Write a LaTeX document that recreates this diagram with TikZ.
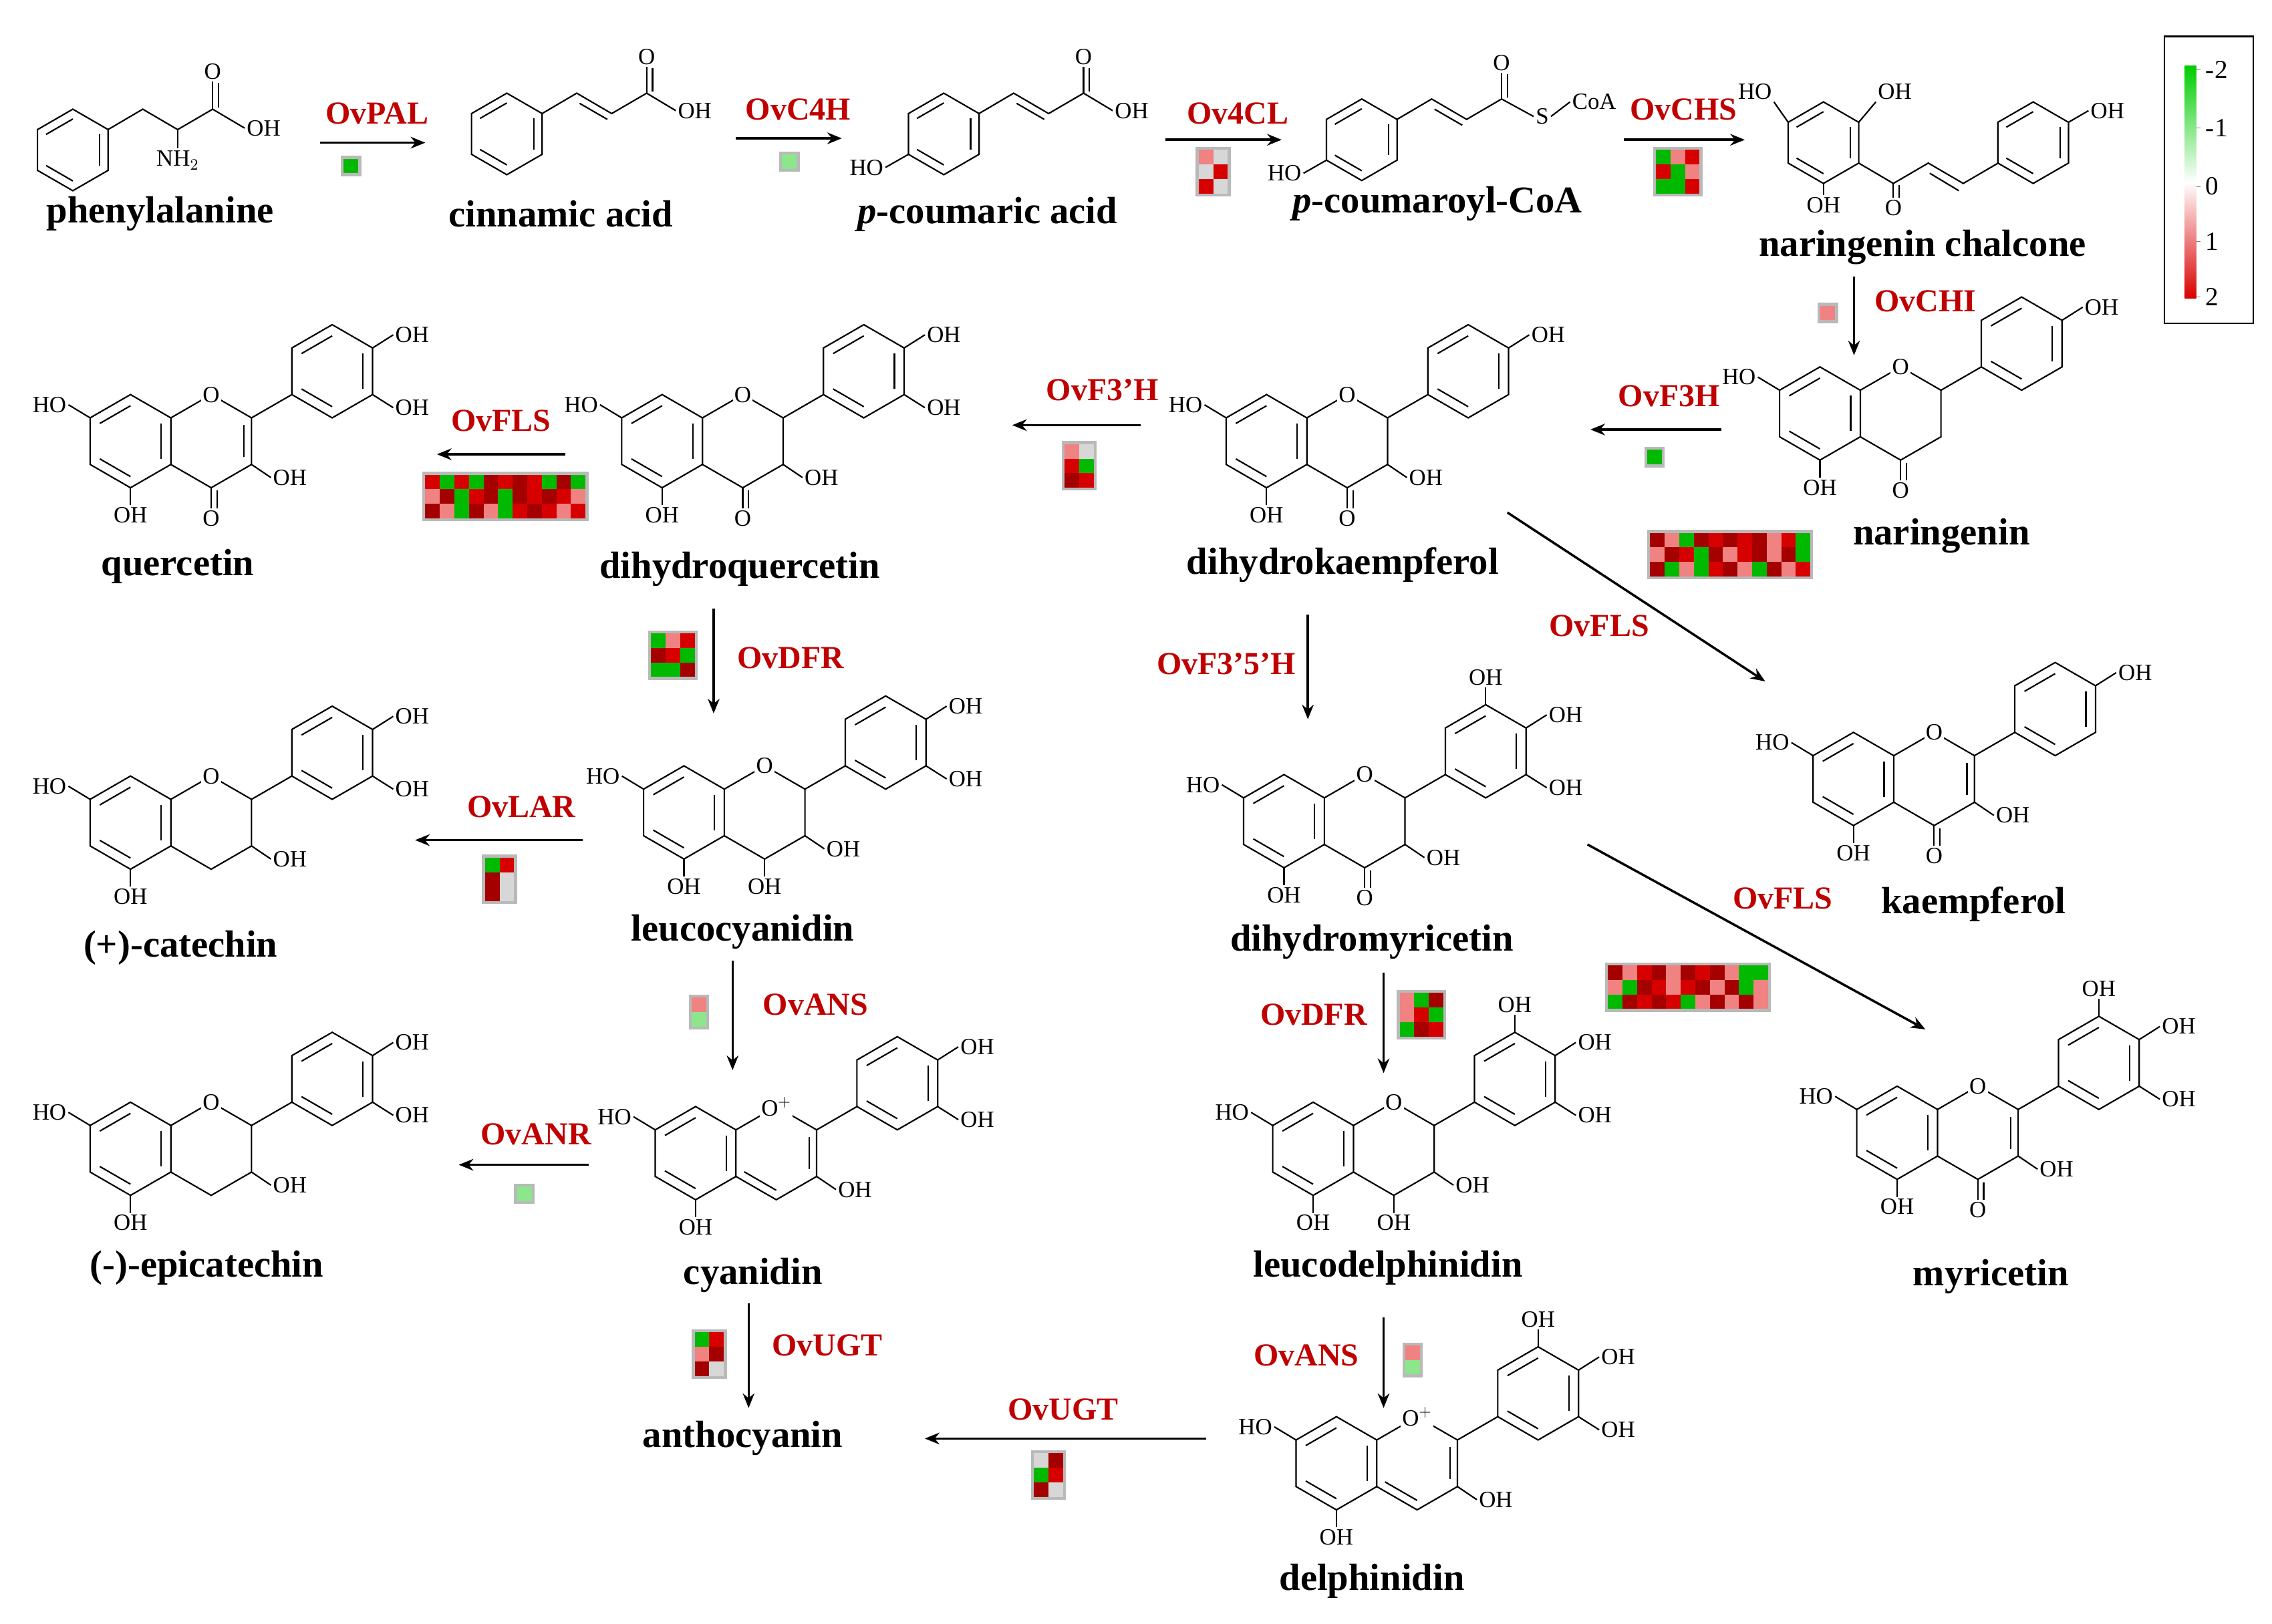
\documentclass[tikz,border=0pt]{standalone}
\usepackage{fontspec}
\setmainfont{Liberation Serif}
\usetikzlibrary{arrows.meta}
\definecolor{enzred}{RGB}{192,0,0}
\definecolor{hg}{RGB}{0,185,0}
\definecolor{hl}{RGB}{140,230,140}
\definecolor{hr}{RGB}{215,0,0}
\definecolor{hp}{RGB}{240,130,130}
\definecolor{hd}{RGB}{165,0,0}
\definecolor{hw}{RGB}{215,215,215}
\tikzset{
  atom/.style={inner sep=1pt,fill=white,font=\fontsize{16}{16}\selectfont},
  cname/.style={font=\bfseries\fontsize{26}{26}\selectfont},
  enz/.style={text=enzred,font=\bfseries\fontsize{22}{22}\selectfont},
  arr/.style={-{Stealth[length=10pt,width=8pt]},line width=1.6pt},
  bond/.style={line width=1pt}
}
% hexagon with aromatic inner lines
\newcommand{\ring}[3]{%
  \begin{scope}[shift={(#1,#2)}]
    \draw[bond] (30:#3) -- (90:#3) -- (150:#3) -- (210:#3) -- (270:#3) -- (330:#3) -- cycle;
    \foreach \a in {90,210,330} \draw[bond] (\a:0.76*#3) -- (\a+60:0.76*#3);
  \end{scope}}
% flavonoid skeleton, C ring centre at #2,#3
\newcommand{\flav}[4][O]{%
  \begin{scope}[shift={(#2,#3)}]
    \ring{-55.4}{0}{32}
    \ring{83.1}{-48}{32}
    \draw[bond] (-27.7,-16) -- (0,-32) -- (27.7,-16) -- (27.7,16) -- (0,32) -- (-27.7,16);
    \draw[bond] (27.7,-16) -- (55.4,-32);
    \node[atom] at (0,-32) {#1};
    \draw[bond] (-83.1,-16) -- (-98,-25) node[atom,anchor=east] {HO};
    \draw[bond] (-55.4,32) -- (-55.4,44) node[atom,anchor=north] {OH};
    \draw[bond] (110.8,-64) -- (125,-73) node[atom,anchor=west] {OH};
    #4
  \end{scope}}
\newcommand{\keto}{\draw[bond] (0,32) -- (0,46) node[atom,anchor=north] {O}; \draw[bond] (4,34) -- (4,46);}
\newcommand{\thOH}{\draw[bond] (27.7,16) -- (41,25) node[atom,anchor=west] {OH};}
\newcommand{\tpOH}{\draw[bond] (83.1,-80) -- (83.1,-92) node[atom,anchor=south] {OH};}
\newcommand{\fvOH}{\draw[bond] (110.8,-32) -- (125,-23) node[atom,anchor=west] {OH};}
\newcommand{\fourOH}{\draw[bond] (0,32) -- (0,44) node[atom,anchor=north] {OH};}
\newcommand{\dbtwo}{\draw[bond] (22.5,-11) -- (22.5,11);}
\newcommand{\dbfour}{\draw[bond] (0,25.5) -- (-22,12.8);}
% heat map: x, y, columns, colours
\newcommand{\hmap}[4]{%
  \begin{scope}[shift={(#1,#2)}]
    \foreach \c [count=\i from 0] in {#4} {
      \pgfmathtruncatemacro\cx{mod(\i,#3)}
      \pgfmathtruncatemacro\cy{div(\i,#3)}
      \fill[gray!55] (\cx*10-2,\cy*10-2) rectangle ++(14,14);}
    \foreach \c [count=\i from 0] in {#4} {
      \pgfmathtruncatemacro\cx{mod(\i,#3)}
      \pgfmathtruncatemacro\cy{div(\i,#3)}
      \fill[\c] (\cx*10,\cy*10) rectangle ++(10,10);}
  \end{scope}}
\begin{document}
\begin{tikzpicture}[x=1pt,y=-1pt]
\useasboundingbox (0,0) rectangle (1560,1115.4);

% top row
\ring{50}{103}{28}
\draw[bond] (74.2,89) -- (98,75) -- (122,89) -- (146,75) -- (168,88) node[atom,anchor=west] {OH};
\draw[bond] (122,89) -- (122,102) node[atom,anchor=north] {NH$_2$};
\draw[bond] (146,75) -- (146,56) node[atom,anchor=south] {O}; \draw[bond] (150,74) -- (150,57);
\ring{348}{92}{28}
\draw[bond] (372.2,78) -- (396,64) -- (420,78) -- (444,64) -- (464,76) node[atom,anchor=west] {OH};
\draw[bond] (398,71) -- (417,82);
\draw[bond] (444,64) -- (444,46) node[atom,anchor=south] {O}; \draw[bond] (448,63) -- (448,47);
\ring{648}{92}{28}
\draw[bond] (672.2,78) -- (696,64) -- (720,78) -- (744,64) -- (764,76) node[atom,anchor=west] {OH};
\draw[bond] (698,71) -- (717,82);
\draw[bond] (744,64) -- (744,46) node[atom,anchor=south] {O}; \draw[bond] (748,63) -- (748,47);
\draw[bond] (623.8,106) -- (608,115) node[atom,anchor=east] {HO};
\ring{935}{96}{28}
\draw[bond] (959.2,82) -- (983,68) -- (1007,82) -- (1031,68) -- (1053,80) node[atom,anchor=west] (s) {S};
\draw[bond] (985,75) -- (1004,86);
\draw[bond] (1031,68) -- (1031,50) node[atom,anchor=south] {O}; \draw[bond] (1035,67) -- (1035,51);
\draw[bond] (s.east) -- (1078,70) node[atom,anchor=west] {CoA};
\draw[bond] (910.8,110) -- (895,119) node[atom,anchor=east] {HO};
\ring{1252}{98}{28}
\draw[bond] (1227.8,84) -- (1218,70) node[atom,anchor=south east] {HO};
\draw[bond] (1276.2,84) -- (1288,70) node[atom,anchor=south west] {OH};
\draw[bond] (1252,126) -- (1252,134) node[atom,anchor=north] {OH};
\draw[bond] (1276.2,112) -- (1300,126) -- (1324,112) -- (1348,126) -- (1372,112);
\draw[bond] (1300,126) -- (1300,136) node[atom,anchor=north] {O}; \draw[bond] (1304,127) -- (1304,136);
\draw[bond] (1325,119) -- (1345,131);
\ring{1396}{98}{28}
\draw[bond] (1420.2,84) -- (1434,76) node[atom,anchor=west] {OH};

% flavonoids
\flav{1305}{284}{\keto}
\flav{925}{303}{\keto\thOH}
\flav{510}{303}{\keto\thOH\fvOH}
\flav{145}{303}{\keto\thOH\fvOH\dbtwo}
\flav{145}{565}{\thOH\fvOH}
\flav{525}{558}{\fourOH\thOH\fvOH}
\flav{937}{564}{\keto\thOH\fvOH\tpOH}
\flav{1328}{535}{\keto\thOH\dbtwo}
\flav{145}{789}{\thOH\fvOH}
\flav[O$^+$]{533}{792}{\thOH\fvOH\dbtwo\dbfour}
\flav{957}{789}{\fourOH\thOH\fvOH\tpOH}
\flav{1358}{778}{\keto\thOH\fvOH\tpOH\dbtwo}
\flav[O$^+$]{973}{1005}{\thOH\fvOH\tpOH\dbtwo\dbfour}

% compound names
\node[cname] (phe) at (110,147) {phenylalanine};
\node[cname] (cin) at (385,147) {cinnamic acid};
\node[cname] (cou) at (678,147) {{\itshape p}-coumaric acid};
\node[cname] (coa) at (987,140) {{\itshape p}-coumaroyl-CoA};
\node[cname] (chal) at (1320,170) {naringenin chalcone};
\node[cname] (nar) at (1333,368) {naringenin};
\node[cname] (dhk) at (922,388) {dihydrokaempferol};
\node[cname] (dhq) at (508,391) {dihydroquercetin};
\node[cname] (que) at (122,389) {quercetin};
\node[cname] (cat) at (124,651) {(+)-catechin};
\node[cname] (leuc) at (510,640) {leucocyanidin};
\node[cname] (dhm) at (942,647) {dihydromyricetin};
\node[cname] (kae) at (1355,621) {kaempferol};
\node[cname] (epi) at (142,871) {(-)-epicatechin};
\node[cname] (cya) at (517,876) {cyanidin};
\node[cname] (leud) at (953,871) {leucodelphinidin};
\node[cname] (myr) at (1367,877) {myricetin};
\node[cname] (ant) at (510,988) {anthocyanin};
\node[cname] (del) at (942,1086) {delphinidin};

% arrows
\draw[arr] (220,98) -- (292,98);
\draw[arr] (505,95) -- (578,95);
\draw[arr] (800,96) -- (880,96);
\draw[arr] (1115,96) -- (1198,96);
\draw[arr] (1273,190) -- (1273,244);
\draw[arr] (1182,295) -- (1092,295);
\draw[arr] (783,292) -- (695,292);
\draw[arr] (388,312) -- (300,312);
\draw[arr] (1035,352) -- (1212,468);
\draw[arr] (898,422) -- (898,494);
\draw[arr] (490,418) -- (490,490);
\draw[arr] (400,577) -- (285,577);
\draw[arr] (503,660) -- (503,735);
\draw[arr] (1090,580) -- (1322,707);
\draw[arr] (404,800) -- (315,800);
\draw[arr] (950,668) -- (950,737);
\draw[arr] (514,895) -- (514,967);
\draw[arr] (950,905) -- (950,967);
\draw[arr] (828,988) -- (635,988);

% enzymes
\node[enz] at (259,78) {OvPAL};
\node[enz] at (548,75) {OvC4H};
\node[enz] at (850,78) {Ov4CL};
\node[enz] at (1156,75) {OvCHS};
\node[enz] at (1322,207) {OvCHI};
\node[enz] at (1146,272) {OvF3H};
\node[enz] at (757,268) {OvF3’H};
\node[enz] at (344,289) {OvFLS};
\node[enz] at (1098,430) {OvFLS};
\node[enz] at (842,456) {OvF3’5’H};
\node[enz] at (543,452) {OvDFR};
\node[enz] at (358,554) {OvLAR};
\node[enz] at (560,690) {OvANS};
\node[enz] at (1224,617) {OvFLS};
\node[enz] at (902,697) {OvDFR};
\node[enz] at (368,779) {OvANR};
\node[enz] at (897,931) {OvANS};
\node[enz] at (568,924) {OvUGT};
\node[enz] at (730,968) {OvUGT};

% heat maps
\hmap{236}{109}{1}{hg}
\hmap{537}{106}{1}{hl}
\hmap{823}{103}{2}{hp,hw,hw,hr,hr,hw}
\hmap{1137}{103}{3}{hg,hp,hr,hr,hg,hp,hg,hg,hr}
\hmap{1250}{210}{1}{hp}
\hmap{1131}{309}{1}{hg}
\hmap{731}{305}{2}{hp,hw,hr,hg,hd,hr}
\hmap{292}{326}{11}{hr,hg,hr,hg,hd,hr,hd,hr,hg,hd,hg,hp,hd,hg,hr,hd,hg,hd,hr,hd,hr,hp,hd,hp,hg,hd,hp,hg,hr,hd,hr,hp,hr}
\hmap{1133}{366}{11}{hd,hp,hg,hd,hr,hd,hr,hd,hp,hr,hg,hp,hd,hr,hg,hd,hp,hr,hd,hp,hd,hg,hd,hg,hp,hg,hr,hd,hp,hg,hd,hp,hr}
\hmap{447}{435}{3}{hg,hp,hr,hd,hr,hg,hg,hg,hd}
\hmap{333}{589}{2}{hg,hr,hd,hw,hd,hw}
\hmap{475}{685}{1}{hp,hl}
\hmap{355}{815}{1}{hl}
\hmap{961}{682}{3}{hp,hg,hd,hp,hr,hg,hg,hd,hr}
\hmap{1104}{663}{11}{hd,hp,hr,hd,hp,hd,hr,hd,hp,hg,hg,hp,hg,hd,hr,hp,hr,hd,hp,hd,hg,hp,hg,hd,hr,hd,hr,hg,hp,hd,hp,hd,hp}
\hmap{477}{915}{2}{hg,hr,hp,hd,hd,hw}
\hmap{965}{924}{1}{hp,hl}
\hmap{710}{998}{2}{hw,hd,hg,hr,hd,hw}

% legend
\draw[line width=1pt] (1486,25) rectangle (1547,222);
\shade[top color=green!80!black,bottom color=white] (1500,45) rectangle (1508,125.5);
\shade[top color=white,bottom color=red!85!black] (1500,125) rectangle (1508,205);
\foreach \v/\yy in {-2/48,-1/88,0/128,1/166,2/204}
  \node[font=\fontsize{18}{18}\selectfont,anchor=west] at (1511,\yy) {\v};
\foreach \yy in {48,88,128,166,204} \draw[gray] (1508,\yy) -- (1511,\yy);
\end{tikzpicture}
\end{document}
